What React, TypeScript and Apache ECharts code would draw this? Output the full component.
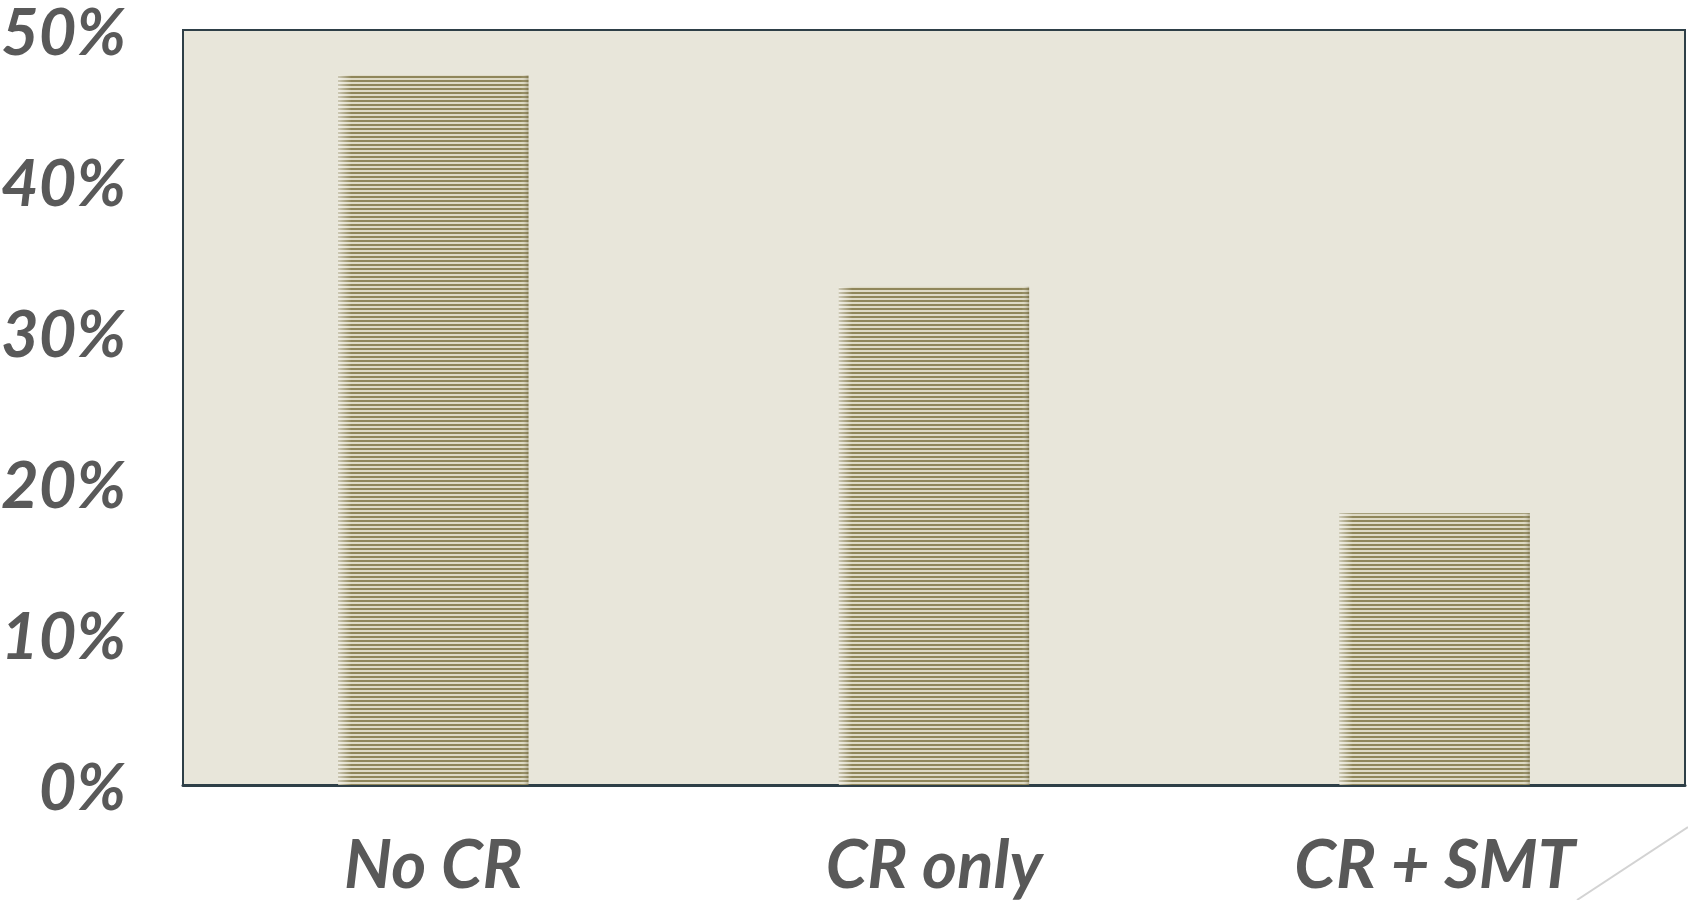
import React, { useEffect, useRef } from "react";
import * as echarts from "echarts";

const categories = ["No CR", "CR only", "CR + SMT"];
const values = [47, 33, 18];
const yTicks = { min: 0, max: 50, interval: 10 };

function makeStripe(): string {
  const c = document.createElement("canvas");
  c.width = 8;
  c.height = 4;
  const g = c.getContext("2d")!;
  g.fillStyle = "#dedac5";
  g.fillRect(0, 0, 8, 4);
  g.fillStyle = "#8f865a";
  g.fillRect(0, 0, 8, 2);
  return c.toDataURL();
}

export default function App() {
  const ref = useRef<HTMLDivElement>(null);
  useEffect(() => {
    const chart = echarts.init(ref.current!, null, { renderer: "svg" });
    const stripe = makeStripe();
    const labelFont = {
      fontFamily: "Lato",
      fontStyle: "italic" as const,
      fontWeight: "bold" as const,
      color: "#595959",
    };
    chart.setOption({
      animation: false,
      backgroundColor: "#ffffff",
      grid: {
        left: 183,
        top: 30,
        right: 3,
        bottom: 115,
        containLabel: false,
        outerBoundsMode: "none",
        show: true,
        backgroundColor: "#e8e6da",
        borderColor: "#2e3f47",
        borderWidth: 2,
      },
      xAxis: {
        type: "category",
        data: categories,
        axisTick: { show: false },
        axisLine: { show: true, lineStyle: { color: "#2e3f47", width: 3 } },
        axisLabel: { ...labelFont, fontSize: 67, lineHeight: 67, margin: 43 },
      },
      yAxis: {
        type: "value",
        min: yTicks.min,
        max: yTicks.max,
        interval: yTicks.interval,
        splitLine: { show: false },
        axisLine: { show: false },
        axisTick: { show: false },
        axisLabel: {
          ...labelFont,
          fontSize: 65,
          lineHeight: 56,
          margin: 57,
          padding: [0, 0, 4, 0],
          formatter: "{value}%",
        },
      },
      series: [
        {
          type: "bar",
          data: values,
          barWidth: "38%",
          itemStyle: { color: { image: stripe, repeat: "repeat" } },
        },
        {
          type: "bar",
          data: values,
          barWidth: "38%",
          barGap: "-100%",
          silent: true,
          itemStyle: {
            color: {
              type: "linear",
              x: 0,
              y: 0,
              x2: 1,
              y2: 0,
              colorStops: [
                { offset: 0, color: "rgba(255,255,255,0.55)" },
                { offset: 0.07, color: "rgba(255,255,255,0)" },
                { offset: 0.96, color: "rgba(255,255,255,0)" },
                { offset: 1, color: "rgba(90,80,40,0.35)" },
              ],
            },
          },
        },
      ],
      graphic: [
        {
          type: "line",
          shape: { x1: 1577, y1: 900, x2: 1688, y2: 827 },
          style: { stroke: "#d3d3d3", lineWidth: 2 },
        },
      ],
    });
    return () => chart.dispose();
  }, []);
  return (
    <div
      ref={ref}
      style={{ position: "fixed", left: 0, top: 0, width: 1688, height: 900 }}
    />
  );
}
